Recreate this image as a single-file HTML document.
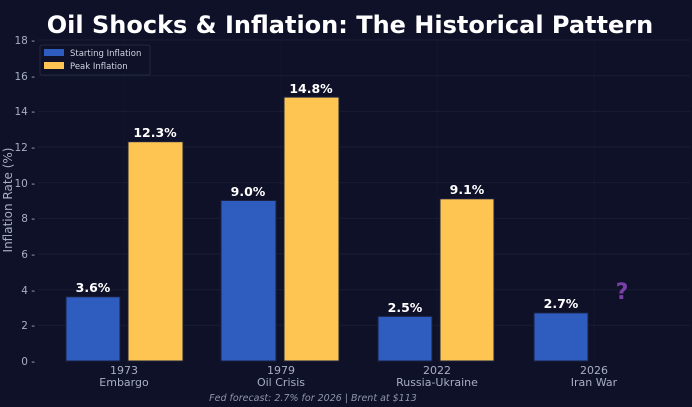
<!DOCTYPE html>
<html><head><meta charset="utf-8"><style>
html,body{margin:0;padding:0;background:#0e1128;}
svg{display:block;font-family:"DejaVu Sans","Liberation Sans",sans-serif;}
</style></head><body>
<svg width="692" height="407" viewBox="0 0 692 407">
<rect width="692" height="407" fill="#0e1128"/>
<text x="350" y="33" text-anchor="middle" font-size="24" font-weight="bold" fill="#ffffff">Oil Shocks &amp; Inflation: The Historical Pattern</text>
<g stroke="#ffffff" stroke-opacity="0.05" stroke-width="1">
<line x1="38" x2="690" y1="325.3" y2="325.3"/>
<line x1="38" x2="690" y1="289.7" y2="289.7"/>
<line x1="38" x2="690" y1="254" y2="254"/>
<line x1="38" x2="690" y1="218.4" y2="218.4"/>
<line x1="38" x2="690" y1="182.7" y2="182.7"/>
<line x1="38" x2="690" y1="147" y2="147"/>
<line x1="38" x2="690" y1="111.4" y2="111.4"/>
<line x1="38" x2="690" y1="75.7" y2="75.7"/>
<line x1="38" x2="690" y1="40" y2="40"/>
</g>
<g stroke="#ffffff" stroke-opacity="0.025" stroke-width="1">
<line x1="124" x2="124" y1="40" y2="361"/>
<line x1="281" x2="281" y1="40" y2="361"/>
<line x1="437" x2="437" y1="40" y2="361"/>
<line x1="594" x2="594" y1="40" y2="361"/>
</g>
<g font-size="10.5" fill="#a8aec4" text-anchor="end">
<text x="35" y="365">0 -</text><text x="35" y="329">2 -</text><text x="35" y="294">4 -</text>
<text x="35" y="258">6 -</text><text x="35" y="222">8 -</text><text x="35" y="187">10 -</text>
<text x="35" y="151">12 -</text><text x="35" y="115">14 -</text><text x="35" y="80">16 -</text>
<text x="35" y="44">18 -</text>
</g>
<text transform="translate(12,200) rotate(-90)" text-anchor="middle" font-size="12" fill="#a8aec4">Inflation Rate (%)</text>
<g stroke="#1a2240" stroke-width="1">
<rect x="66" y="296.8" width="54" height="64.2" fill="#2e5cbf"/>
<rect x="128" y="141.7" width="55" height="219.3" fill="#ffc552"/>
<rect x="221" y="200.5" width="55" height="160.5" fill="#2e5cbf"/>
<rect x="284" y="97.1" width="55" height="263.9" fill="#ffc552"/>
<rect x="378" y="316.4" width="54" height="44.6" fill="#2e5cbf"/>
<rect x="440" y="198.8" width="54" height="162.2" fill="#ffc552"/>
<rect x="534" y="312.9" width="54" height="48.1" fill="#2e5cbf"/>
</g>
<g font-size="12.5" font-weight="bold" fill="#ffffff" text-anchor="middle">
<text x="93" y="292">3.6%</text>
<text x="155" y="137">12.3%</text>
<text x="248" y="196">9.0%</text>
<text x="311" y="93">14.8%</text>
<text x="405" y="312">2.5%</text>
<text x="467" y="194">9.1%</text>
<text x="561" y="308">2.7%</text>
</g>
<text x="622" y="299" text-anchor="middle" font-size="22" font-weight="bold" fill="#7b3fa8">?</text>
<g font-size="11" fill="#a8aec4" text-anchor="middle">
<text x="124" y="374">1973</text><text x="124" y="386">Embargo</text>
<text x="281" y="374">1979</text><text x="281" y="386">Oil Crisis</text>
<text x="437" y="374">2022</text><text x="437" y="386">Russia-Ukraine</text>
<text x="594" y="374">2026</text><text x="594" y="386">Iran War</text>
</g>
<text x="313" y="401" text-anchor="middle" font-size="9.5" font-style="italic" fill="#8f95ad">Fed forecast: 2.7% for 2026 | Brent at $113</text>
<rect x="40" y="45" width="110" height="30" rx="2" fill="#0e1128" stroke="#2a2f4a" stroke-width="0.8"/>
<rect x="44" y="49" width="20" height="7" fill="#2e5cbf"/>
<rect x="44" y="62" width="20" height="7" fill="#ffc552"/>
<text x="70" y="56" font-size="8.5" fill="#d0d4e2">Starting Inflation</text>
<text x="70" y="69" font-size="8.5" fill="#d0d4e2">Peak Inflation</text>
</svg>
</body></html>
